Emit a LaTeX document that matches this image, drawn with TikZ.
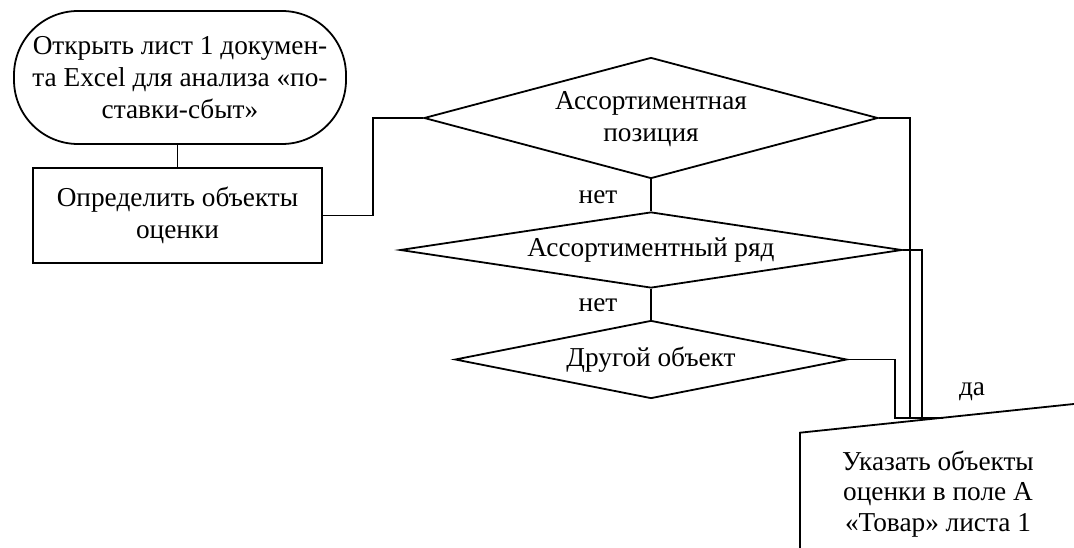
\documentclass[tikz,border=0pt]{standalone}
\usepackage{fontspec}
\setmainfont{Liberation Serif}
\usetikzlibrary{shapes.geometric}
\begin{document}
\begin{tikzpicture}[x=1pt,y=-1pt, line width=1.8pt,
  every node/.style={font=\fontsize{27.3}{32}\selectfont},
  box/.style={draw, rectangle, minimum width=289pt, minimum height=95pt, align=center, inner sep=0pt},
  term/.style={draw, rectangle, rounded corners=64pt, minimum width=332pt, minimum height=133pt, align=center, inner sep=0pt},
  dec/.style={draw, diamond, inner sep=0pt, align=center},
  lbl/.style={inner sep=0pt}]
\useasboundingbox (0,0) rectangle (1074,548);
\clip (0,0) rectangle (1074,548);
\node[term] (start) at (180,77.5) {Открыть лист 1 докумен-\\та Excel для анализа «по-\\ставки-сбыт»};
\node[box] (def) at (177.5,215.5) {Определить объекты\\оценки};
\node[dec, aspect=3.75, minimum width=454pt, minimum height=121pt, text depth=4pt] (d1) at (651,118) {Ассортиментная\\позиция};
\node[dec, aspect=6.6, minimum width=502pt, minimum height=76pt] (d2) at (651,250) {Ассортиментный ряд};
\node[dec, aspect=5.0, minimum width=392pt, minimum height=78pt] (d3) at (651,359.5) {Другой объект};
% manual input shape (partly outside the picture)
\coordinate (tl) at (800,432.7);
\coordinate (tr) at (1090,402.3);
\draw (800,560) -- (tl) -- (tr);
\node[align=center, inner sep=0pt, font=\fontsize{27.3}{30.5}\selectfont] (inp) at (938,494) {Указать объекты\\оценки в поле А\\«Товар» листа 1};
\coordinate (c1) at (910,418);
\coordinate (c2) at (922,418);
\coordinate (c3) at (895,418);
\coordinate (j) at (943,418);
% connectors
\draw (def.north |- start.south) -- (def.north);
\draw (def.east) -- ++(50,0) |- (d1.west);
\draw (d1.south) -- (d2.north);
\draw (d2.south) -- (d3.north);
\draw (d1.east) -| (c1);
\draw (d2.east) -| (c2);
\draw (d3.east) -| (c3) -- (j);
% labels
\node[lbl] (n1) at (598,197) {нет};
\node[lbl] (n2) at (598,305) {нет};
\node[lbl] (yes) at (972,392) {да};
\end{tikzpicture}
\end{document}
